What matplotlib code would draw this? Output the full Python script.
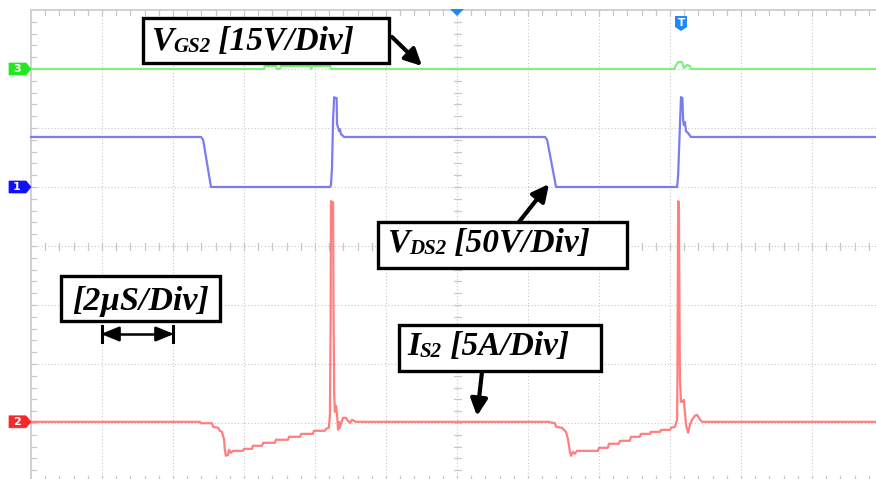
import matplotlib
matplotlib.use("Agg")
import matplotlib.pyplot as plt
from matplotlib.patches import Rectangle, Polygon, FancyArrowPatch
from matplotlib.transforms import Affine2D

# ---------------- data (time in microseconds) ----------------
# VGS2 (channel 3, 15 V/div)
vgs_t = [0.00, 6.56, 6.59, 6.90, 6.93, 7.01, 7.04, 7.86, 7.89, 7.92, 8.42, 8.45,
         18.11, 18.23, 18.34, 18.39, 18.48, 18.56, 18.59, 23.80]
vgs_v = [0.0, 0.0, 0.76, 0.76, 0.0, 0.0, 0.76, 0.76, 0.0, 0.76, 0.76, 0.0,
         0.0, 1.78, 1.78, 0.25, 1.02, 0.76, 0.0, 0.0]

# VDS2 (channel 1, 50 V/div)
vds_t = [0.00, 4.79, 4.85, 5.07, 8.42, 8.45, 8.48, 8.51, 8.54, 8.56, 8.61, 8.62,
         8.68, 8.70, 8.73, 8.82, 14.48, 14.54, 14.79, 18.20, 18.23, 18.28, 18.31,
         18.35, 18.37, 18.39, 18.42, 18.45, 18.51, 18.59, 23.80]
vds_v = [42.4, 42.4, 39.8, 0.0, 0.0, 1.7, 16.9, 58.4, 76.2, 75.4, 75.4, 53.4,
         47.4, 49.1, 44.9, 42.4, 42.4, 39.8, 0.0, 0.0, 10.2, 52.5, 76.2,
         75.4, 56.7, 52.5, 55.0, 47.4, 45.7, 42.4, 42.4]

# IS2 (channel 2, 5 A/div)
is_t = [0.00, 4.76, 4.79, 5.10, 5.13, 5.27, 5.32, 5.38, 5.44, 5.46, 5.49, 5.55,
        5.58, 5.63, 5.69, 5.97, 6.00, 6.23, 6.25, 6.51, 6.54, 6.87, 6.90, 7.24,
        7.27, 7.58, 7.61, 7.94, 7.97, 8.28, 8.31, 8.39, 8.42, 8.44, 8.45, 8.51,
        8.52, 8.54, 8.56, 8.59, 8.62, 8.65, 8.68, 8.70, 8.73, 8.79, 8.87, 8.93,
        8.99, 9.04, 9.15, 14.56, 14.76, 14.79, 14.96, 15.07, 15.13, 15.18, 15.21,
        15.27, 15.32, 15.38, 15.97, 16.00, 16.25, 16.28, 16.56, 16.59, 16.87,
        16.90, 17.15, 17.18, 17.44, 17.46, 17.72, 17.75, 18.00, 18.03, 18.14,
        18.20, 18.21, 18.23, 18.25, 18.28, 18.31, 18.34, 18.39, 18.45, 18.51,
        18.56, 18.62, 18.70, 18.76, 18.85, 18.90, 18.99, 23.80]
is_a = [0.0, 0.0, -0.12, -0.12, -0.42, -0.51, -0.76, -0.85, -1.52, -2.37, -2.88, -2.80,
        -2.37, -2.63, -2.46, -2.46, -2.29, -2.29, -2.03, -2.03, -1.78, -1.78, -1.52, -1.52,
        -1.27, -1.27, -1.02, -1.02, -0.76, -0.76, -0.59, -0.51, 0.59, 8.39, 18.7, 18.6,
        10.3, 2.46, 0.85, 1.36, 0.68, -0.68, 0.0, -0.51, -0.17, 0.34, 0.34, 0.08,
        -0.08, 0.17, 0.0, 0.0, -0.12, -0.42, -0.51, -0.85, -1.52, -2.54, -2.88,
        -2.54, -2.71, -2.46, -2.46, -2.20, -2.20, -1.86, -1.86, -1.61, -1.61,
        -1.27, -1.27, -1.02, -1.02, -0.85, -0.85, -0.68, -0.68, -0.51, -0.42,
        0.17, 4.15, 18.7, 18.6, 3.56, 1.69, 1.69, 1.86, -0.25, -0.93,
        -0.25, 0.17, 0.51, 0.59, 0.17, 0.0, 0.0, 0.0]

ch_labels = ["1", "2", "3"]
label_vgs = ("V", "GS2", " [15V/Div]")
label_vds = ("V", "DS2", " [50V/Div]")
label_is = ("I", "S2", " [5A/Div]")
label_time = "[2\u00b5S/Div]"

# scope settings: volts (or amps) per division and ground offset in divisions
vgs_scale, vgs_off = 15.0, 3.0
vds_scale, vds_off = 50.0, 1.0
is_scale, is_off = 5.0, -2.98
t_per_div = 2.0

# ---------------- figure ----------------
W, H = 876, 479
fig = plt.figure(figsize=(W / 100, H / 100), dpi=100, facecolor="white")
ax = fig.add_axes([0, 0, 1, 1])
ax.set_facecolor("white")
px_div_x, px_div_y = 71.0, 59.0
x0_px, y0_px = 31.0, 246.0
ax.set_xlim(-x0_px / px_div_x * t_per_div, (W - x0_px) / px_div_x * t_per_div)
ax.set_ylim(-(H - y0_px) / px_div_y, y0_px / px_div_y)
ax.axis("off")

pix = Affine2D().scale(1.0 / W, -1.0 / H).translate(0, 1) + fig.transFigure

gcol = "#c8c8c8"
# grid (dotted)
for k in range(1, 12):
    ax.plot([k * t_per_div] * 2, [-4, 4], color=gcol, lw=0.8, ls=(0, (1, 2)), zorder=1)
for k in range(-3, 4):
    ax.plot([0, 12 * t_per_div], [k, k], color=gcol, lw=0.8, ls=(0, (1, 2)), zorder=1)
# borders
ax.plot([0, 12 * t_per_div], [4, 4], color="#d0d0d0", lw=1.4, zorder=1)
ax.plot([0, 0], [-4, 4], color="#d0d0d0", lw=1.4, zorder=1)
# minor ticks
dx = t_per_div / 5
dy = 1 / 5
tkx = 5 / px_div_x * t_per_div
tky = 5 / px_div_y
for i in range(1, 60):
    t = i * dx
    ax.plot([t, t], [4, 4 - tky], color=gcol, lw=0.9, zorder=1)
    ax.plot([t, t], [-tky * 0.7, tky * 0.7], color=gcol, lw=0.9, zorder=1)
    ax.plot([t, t], [-4, -4 + tky * 1.2], color=gcol, lw=0.9, zorder=1)
for i in range(-19, 20):
    y = i * dy
    ax.plot([0, tkx], [y, y], color=gcol, lw=0.9, zorder=1)
    ax.plot([6 * t_per_div - tkx * 0.7, 6 * t_per_div + tkx * 0.7], [y, y], color=gcol, lw=0.9, zorder=1)

# traces
ax.plot(vgs_t, [v / vgs_scale + vgs_off for v in vgs_v], color="#80ef80", lw=1.6, zorder=3)
ax.plot(vds_t, [v / vds_scale + vds_off for v in vds_v], color="#7c7cf2", lw=1.6, zorder=3)
ax.plot(is_t, [a / is_scale + is_off for a in is_a], color="#ff7f7f", lw=1.6, zorder=3)

# channel tags on the left
def tag(ypix, txt, col):
    poly = Polygon([(9, ypix - 6), (26, ypix - 6), (31, ypix), (26, ypix + 6), (9, ypix + 6)],
                   closed=True, transform=pix, facecolor=col, edgecolor=col, lw=0.5, zorder=5)
    ax.add_patch(poly)
    ax.text(17, ypix + 0.5, txt, transform=pix, color="white", fontsize=8, fontweight="bold",
            ha="center", va="center", zorder=6)

tag(y0_px - vgs_off * px_div_y, ch_labels[2], "#22e822")
tag(y0_px - vds_off * px_div_y, ch_labels[0], "#1010ff")
tag(y0_px - is_off * px_div_y, ch_labels[1], "#f42a2a")

# trigger markers
ax.add_patch(Polygon([(450, 9), (464, 9), (457, 16)], closed=True, transform=pix,
                     facecolor="#1e88ff", edgecolor="none", zorder=5))
ax.add_patch(Polygon([(675, 16), (687, 16), (687, 27), (681, 31), (675, 27)], closed=True,
                     transform=pix, facecolor="#1e88ff", edgecolor="none", zorder=5))
ax.text(681, 22.5, "T", transform=pix, color="white", fontsize=7.5, fontweight="bold",
        ha="center", va="center", zorder=6)

# label boxes
font = dict(family="Liberation Serif", weight="bold", style="italic", color="black")

def box(x, y, w, h):
    ax.add_patch(Rectangle((x, y), w, h, transform=pix, facecolor="white", edgecolor="black",
                           lw=2.4, zorder=7))

def sublabel(x, y, parts):
    t1 = ax.text(x, y, parts[0], transform=pix, fontsize=24, ha="left", va="baseline",
                 zorder=8, **font)
    t2 = ax.annotate(parts[1], xy=(1, 0), xycoords=t1, fontsize=15, ha="left",
                     va="bottom", zorder=8, **font)
    ax.annotate(parts[2], xy=(1, 0), xycoords=(t2, t1), fontsize=24, ha="left",
                va="bottom", zorder=8, **font)

def arrow(p0, p1, lw=3.0, style="-|>,head_length=1.0,head_width=0.5"):
    ax.add_patch(FancyArrowPatch(p0, p1, transform=pix, arrowstyle=style, mutation_scale=10,
                                 color="black", lw=lw, shrinkA=0, shrinkB=0, zorder=8))

box(143, 18, 246, 45)
sublabel(151, 50, label_vgs)
arrow((392, 37), (422, 66))

box(378, 222, 249, 46)
sublabel(387, 252, label_vds)
arrow((519, 222), (549, 184))

box(399, 325, 202, 46)
sublabel(407, 355, label_is)
arrow((482, 372), (477, 416))

box(61, 276, 159, 45)
ax.text(72, 310, label_time, transform=pix, fontsize=24.5, ha="left", va="baseline", zorder=8, **font)
ax.plot([102, 102], [326, 342], transform=pix, color="black", lw=2.2, zorder=8)
ax.plot([173, 173], [326, 342], transform=pix, color="black", lw=2.2, zorder=8)
arrow((110, 334), (101, 334), lw=1.8, style="-|>,head_length=1.1,head_width=0.45")
arrow((165, 334), (174, 334), lw=1.8, style="-|>,head_length=1.1,head_width=0.45")
ax.plot([108, 167], [334, 334], transform=pix, color="black", lw=1.8, zorder=8)

fig.savefig("out.png", dpi=100, facecolor="white")
